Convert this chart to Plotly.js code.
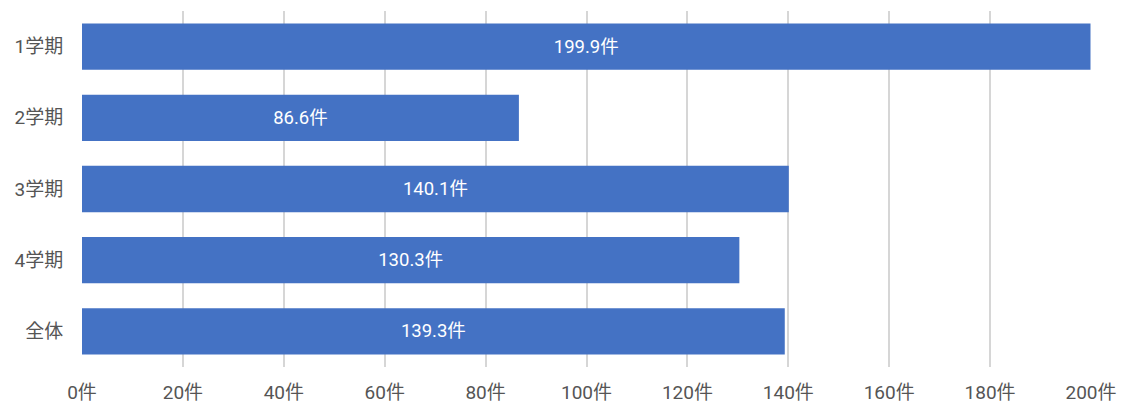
<!DOCTYPE html>
<html><head><meta charset="utf-8">
<script src="https://cdn.plot.ly/plotly-3.0.1.min.js"></script>
<style>html,body{margin:0;padding:0;background:#fff}#chart{width:1122px;height:403px}</style>
</head><body><div id="chart"></div>
<script>
const categories = ["1学期", "2学期", "3学期", "4学期", "全体"];
const values = [199.9, 86.6, 140.1, 130.3, 139.3];
const xTickValues = [0, 20, 40, 60, 80, 100, 120, 140, 160, 180, 200];
const xTickLabels = xTickValues.map(v => v + "件");
const valueLabels = values.map(v => v.toFixed(1) + "件");

const font = "Roboto, 'Noto Sans CJK JP', sans-serif";
Plotly.newPlot("chart", [{
  type: "bar", orientation: "h",
  x: values, y: categories,
  marker: {color: "#4472C4"},
  text: valueLabels, textposition: "inside", insidetextanchor: "middle",
  textfont: {family: font, size: 18.5, color: "#ffffff"},
  width: 0.65, hoverinfo: "none"
}], {
  width: 1122, height: 403,
  margin: {l: 82, r: 31, t: 11, b: 36},
  paper_bgcolor: "#fff", plot_bgcolor: "#fff",
  font: {family: font, size: 19, color: "#555555"},
  showlegend: false,
  xaxis: {range: [0, 200], tickvals: xTickValues, ticktext: xTickLabels,
    showgrid: true, gridcolor: "#d6d6d6", gridwidth: 2, zeroline: false,
    showline: false, ticks: "outside", ticklen: 8, tickcolor: "rgba(0,0,0,0)",
    tickfont: {family: font, size: 19, color: "#555555"}},
  yaxis: {categoryorder: "array", categoryarray: categories, autorange: "reversed",
    showgrid: false, zeroline: false, showline: false,
    ticks: "outside", ticklen: 14, tickcolor: "rgba(0,0,0,0)",
    tickfont: {family: font, size: 19, color: "#555555"}}
}, {staticPlot: true});
</script></body></html>
